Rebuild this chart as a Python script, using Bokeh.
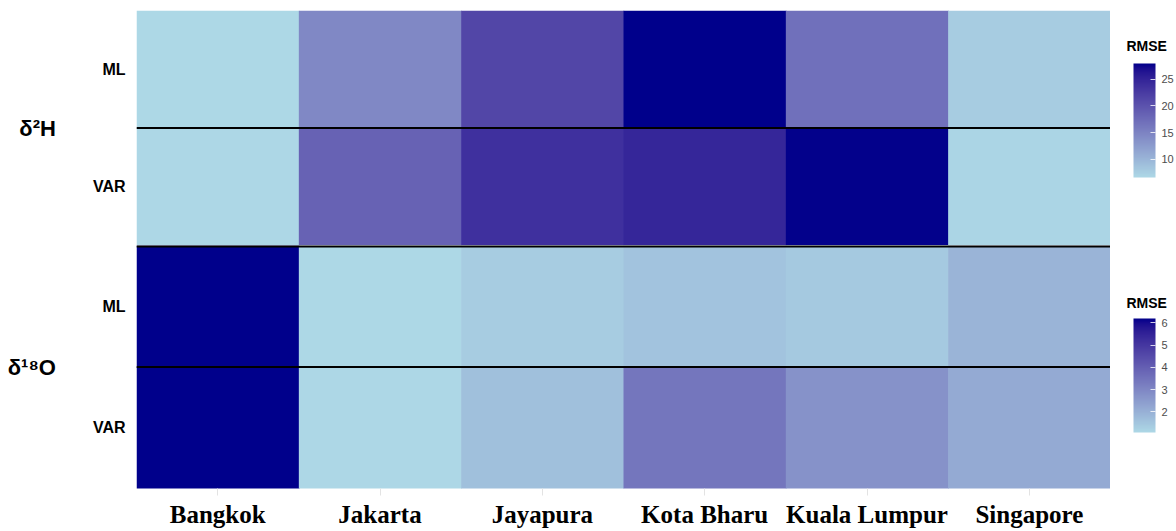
from bokeh.plotting import figure
from bokeh.models import (ColumnDataSource, FactorRange, LinearColorMapper, ColorBar,
                          SingleIntervalTicker, Span, Label)
from bokeh.layouts import row, column
from bokeh.transform import transform
from bokeh.embed import file_html
from bokeh.resources import INLINE

# ---- data -------------------------------------------------------------
cities = ["Bangkok", "Jakarta", "Jayapura", "Kota Bharu", "Kuala Lumpur", "Singapore"]
methods = ["VAR", "ML"]  # listed bottom to top

rmse_d2h_ml = [6.6, 14.5, 21.4, 27.9, 17.0, 7.8]
rmse_d2h_var = [6.7, 18.4, 23.6, 24.7, 27.8, 7.0]
rmse_d18o_ml = [6.2, 1.07, 1.37, 1.57, 1.42, 1.93]
rmse_d18o_var = [6.18, 1.10, 1.65, 3.43, 2.73, 2.17]

isotope_labels = ["δ²H", "δ¹⁸O"]
legend_title = "RMSE"

LOW_COLOR = "#ADD8E6"   # lightblue
HIGH_COLOR = "#00008B"  # darkblue


# ---- colour ramp interpolated in CIELAB --------------------------------
def _hex_to_rgb(h):
    h = h.lstrip("#")
    return [int(h[i:i + 2], 16) / 255.0 for i in (0, 2, 4)]


def _to_lin(c):
    return c / 12.92 if c <= 0.04045 else ((c + 0.055) / 1.055) ** 2.4


def _from_lin(c):
    c = 12.92 * c if c <= 0.0031308 else 1.055 * c ** (1 / 2.4) - 0.055
    return min(1.0, max(0.0, c))


WHITE = (0.95047, 1.0, 1.08883)


def _f(t):
    d = 6 / 29
    return t ** (1 / 3) if t > d ** 3 else t / (3 * d * d) + 4 / 29


def _finv(t):
    d = 6 / 29
    return t ** 3 if t > d else 3 * d * d * (t - 4 / 29)


def rgb_to_lab(rgb):
    r, g, b = (_to_lin(c) for c in rgb)
    x = 0.4124 * r + 0.3576 * g + 0.1805 * b
    y = 0.2126 * r + 0.7152 * g + 0.0722 * b
    z = 0.0193 * r + 0.1192 * g + 0.9505 * b
    fx, fy, fz = _f(x / WHITE[0]), _f(y / WHITE[1]), _f(z / WHITE[2])
    return (116 * fy - 16, 500 * (fx - fy), 200 * (fy - fz))


def lab_to_hex(lab):
    L, a, bb = lab
    fy = (L + 16) / 116
    fx = fy + a / 500
    fz = fy - bb / 200
    x, y, z = WHITE[0] * _finv(fx), WHITE[1] * _finv(fy), WHITE[2] * _finv(fz)
    r = 3.2406 * x - 1.5372 * y - 0.4986 * z
    g = -0.9689 * x + 1.8758 * y + 0.0415 * z
    b = 0.0557 * x - 0.2040 * y + 1.0570 * z
    return "#%02x%02x%02x" % tuple(int(round(_from_lin(c) * 255)) for c in (r, g, b))


def lab_ramp(lo, hi, n=256):
    l0, l1 = rgb_to_lab(_hex_to_rgb(lo)), rgb_to_lab(_hex_to_rgb(hi))
    out = []
    for i in range(n):
        t = i / (n - 1)
        out.append(lab_to_hex(tuple(a + (b - a) * t for a, b in zip(l0, l1))))
    return out


PALETTE = lab_ramp(LOW_COLOR, HIGH_COLOR)

x_range = FactorRange(*cities)


def heat_panel(label, ml_vals, var_vals, height, border_top, border_bottom, show_x):
    xs = cities + cities
    ys = ["ML"] * len(cities) + ["VAR"] * len(cities)
    vals = list(ml_vals) + list(var_vals)
    src = ColumnDataSource(dict(city=xs, method=ys, rmse=vals))
    mapper = LinearColorMapper(palette=PALETTE, low=min(vals), high=max(vals))

    p = figure(width=1110, height=height, x_range=x_range, y_range=FactorRange(*methods),
               toolbar_location=None, output_backend="svg",
               x_axis_location="below" if show_x else None,
               min_border_left=136, min_border_right=0,
               min_border_top=border_top, min_border_bottom=border_bottom,
               outline_line_color=None, background_fill_color="white")
    p.rect(x="city", y="method", width=1, height=1, source=src, dilate=True,
           fill_color=transform("rmse", mapper), line_color=None)
    p.grid.visible = False

    ya = p.yaxis[0]
    ya.axis_line_color = None
    ya.major_tick_line_color = None
    ya.major_tick_in = 0
    ya.major_tick_out = 0
    ya.major_label_standoff = 11
    ya.major_label_text_font = "Liberation Sans"
    ya.major_label_text_font_style = "bold"
    ya.major_label_text_font_size = "16px"
    ya.major_label_text_color = "black"
    ya.axis_label = label
    ya.axis_label_orientation = "horizontal"
    ya.axis_label_standoff = 34
    ya.axis_label_text_font = "Liberation Sans"
    ya.axis_label_text_font_style = "bold"
    ya.axis_label_text_font_size = "22px"
    ya.axis_label_text_color = "black"

    if show_x:
        xa = p.xaxis[0]
        xa.axis_line_color = None
        xa.major_tick_line_color = "#e3e3e3"
        xa.major_tick_in = 0
        xa.major_tick_out = 7
        xa.major_label_standoff = 5
        xa.major_label_text_font = "Liberation Serif"
        xa.major_label_text_font_style = "bold"
        xa.major_label_text_font_size = "25px"
        xa.major_label_text_color = "black"

    # separator between ML and VAR rows
    p.add_layout(Span(location=1, dimension="width", line_color="black", line_width=2))
    return p, mapper


p_h, map_h = heat_panel(isotope_labels[0], rmse_d2h_ml, rmse_d2h_var, 245, 10, 0, False)
p_o, map_o = heat_panel(isotope_labels[1], rmse_d18o_ml, rmse_d18o_var, 286, 0, 43, True)

# boundary between the two isotope panels (upper half is cut by the canvas edge)
p_o.add_layout(Span(location=2, dimension="width", line_color="black", line_width=4))

# ---- colour bars --------------------------------------------------------
leg = figure(width=66, height=531, toolbar_location=None, output_backend="svg",
             x_axis_location=None, y_axis_location=None, min_border=0,
             outline_line_color=None)
leg.grid.visible = False


def make_bar(mapper, interval, loc):
    return ColorBar(color_mapper=mapper, ticker=SingleIntervalTicker(interval=interval),
                    width=22, height=114, location=loc, padding=0, margin=0,
                    major_label_text_font="Liberation Sans", major_label_text_font_size="11px",
                    major_label_text_color="#4d4d4d", label_standoff=6,
                    major_tick_in=5, major_tick_out=0, major_tick_line_color="white",
                    major_tick_line_alpha=0.8, bar_line_color=None,
                    border_line_color=None, background_fill_color=None)


def make_title(y):
    return Label(x=16, y=y, x_units="screen", y_units="screen", text=legend_title,
                 text_baseline="middle", text_align="left", text_font="Liberation Sans",
                 text_font_size="14px", text_font_style="bold", text_color="black")


leg.add_layout(make_bar(map_h, 5, (23, 354)))
leg.add_layout(make_bar(map_o, 1, (23, 99)))
leg.add_layout(make_title(486))
leg.add_layout(make_title(229))

layout = row(column(p_h, p_o, spacing=0), leg, spacing=0)

with open("out.html", "w") as fh:
    fh.write(file_html(layout, INLINE))
